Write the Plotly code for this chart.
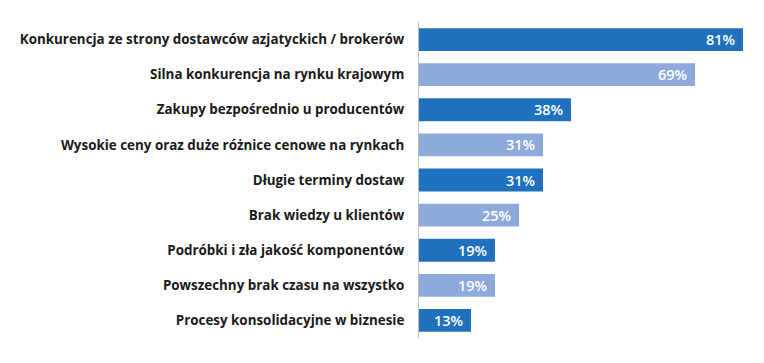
import plotly.graph_objects as go

categories = [
    "Konkurencja ze strony dostawców azjatyckich / brokerów",
    "Silna konkurencja na rynku krajowym",
    "Zakupy bezpośrednio u producentów",
    "Wysokie ceny oraz duże różnice cenowe na rynkach",
    "Długie terminy dostaw",
    "Brak wiedzy u klientów",
    "Podróbki i zła jakość komponentów",
    "Powszechny brak czasu na wszystko",
    "Procesy konsolidacyjne w biznesie",
]
values = [81, 69, 38, 31, 31, 25, 19, 19, 13]

dark = "#1f71bd"
light = "#8eaadb"
colors = [dark if i % 2 == 0 else light for i in range(len(values))]

fig = go.Figure(go.Bar(
    x=values,
    y=categories,
    orientation="h",
    marker=dict(color=colors, line=dict(width=0)),
    width=0.65,
    hoverinfo="skip",
))

for c, v in zip(categories, values):
    fig.add_annotation(
        x=v, y=c, text=f"{v}%", xanchor="right", yanchor="middle",
        xshift=-6, showarrow=False,
        font=dict(family="Open Sans", size=14.5, color="white", weight=600),
    )

# page body has an 8px default margin; compensate in the figure geometry
fig.update_layout(
    width=748, height=347,
    margin=dict(l=411, r=5, t=14, b=17),
    plot_bgcolor="white", paper_bgcolor="white",
    showlegend=False,
    xaxis=dict(range=[0, 83], visible=False, fixedrange=True),
    yaxis=dict(
        autorange="reversed", automargin=False,
        showline=True, linecolor="#bfbfbf", linewidth=1,
        ticks="", ticklabelstandoff=11,
        tickfont=dict(family="Open Sans", size=13.4, color="#1a1a1a", weight="bold"),
        showgrid=False, zeroline=False,
    ),
)

fig.write_html("out.html")
